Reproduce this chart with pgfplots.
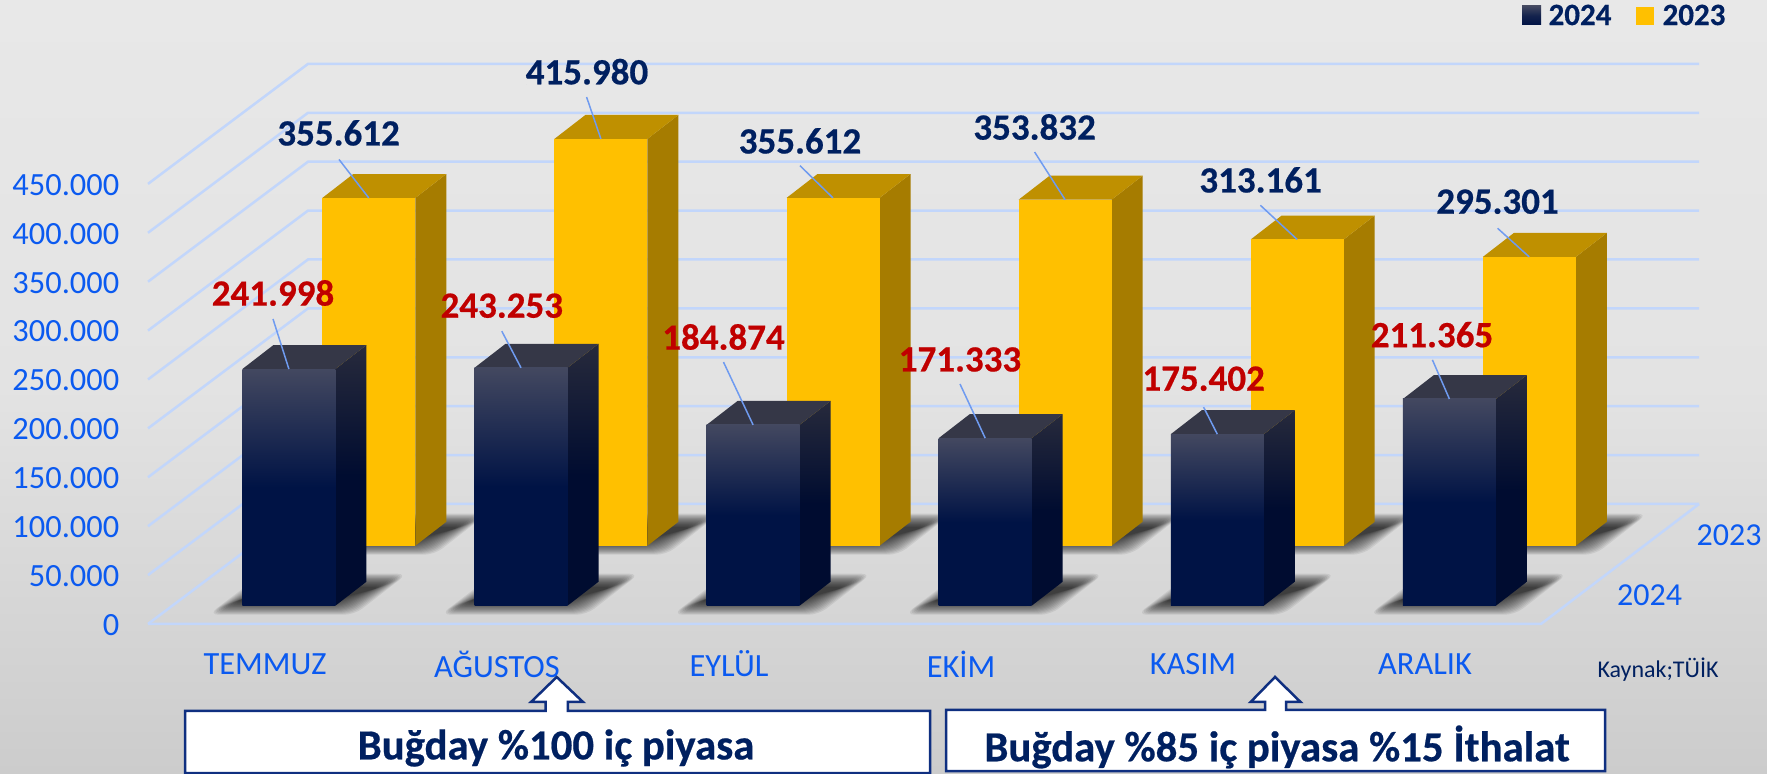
\documentclass[border=0pt]{standalone}
\usepackage{fontspec}
\setmainfont[BoldFeatures={FakeBold=0.5}]{Carlito}
\usepackage{pgfplots}
\pgfplotsset{compat=1.18}
\definecolor{gridc}{HTML}{C2D6FB}
\definecolor{tickc}{HTML}{0B5AF0}
\definecolor{navy}{HTML}{002060}
\definecolor{redc}{HTML}{C00000}
\definecolor{leader}{HTML}{6F9BF0}
\definecolor{boxc}{HTML}{0F2F80}
\newcommand\Y[1]{{(624-(#1))/0.978}}
% grid line: front-left, back-left, back-right
\newcommand\gridl[1]{%
  \pgfmathsetmacro\gb{#1+122.7}%
  \addplot[gridc,line width=1.25pt,forget plot] coordinates {(148,#1)(308,\gb)(1699,\gb)};}
% shadow layers
\newcommand\shl[3]{%
  \fill[black,opacity=0.07,rounded corners=5pt] (axis cs:{#1-34+#3*1.7},\Y{#2+9-#3*0.9})
   -- (axis cs:{#1+112-#3*1.7},\Y{#2+9-#3*0.9})
   -- (axis cs:{#1+165-#3*1.7},\Y{#2-32+#3*0.9})
   -- (axis cs:{#1+20+#3*1.7},\Y{#2-32+#3*0.9}) -- cycle;}
\newcommand\shadowb[2]{\shl{#1}{#2}{0}\shl{#1}{#2}{1}\shl{#1}{#2}{2}\shl{#1}{#2}{3}\shl{#1}{#2}{4}\shl{#1}{#2}{5}\shl{#1}{#2}{6}\shl{#1}{#2}{7}\shl{#1}{#2}{8}\shl{#1}{#2}{9}\shl{#1}{#2}{10}\shl{#1}{#2}{11}\shl{#1}{#2}{12}\shl{#1}{#2}{13}\shl{#1}{#2}{14}\shl{#1}{#2}{15}}
% bar faces: x-left, value
\newcommand\barg[2]{%
  \pgfmathsetmacro\xr{#1+93}\pgfmathsetmacro\xrb{#1+124}\pgfmathsetmacro\xlb{#1+31}%
  \pgfmathsetmacro\yb{80.0}\pgfmathsetmacro\yt{80.0+#2}\pgfmathsetmacro\ybb{80.0+24.5}\pgfmathsetmacro\ytb{80.0+#2+24.5}%
  \addplot[fill=goldside,draw=none,forget plot] coordinates {(\xr,\yb)(\xrb,\ybb)(\xrb,\ytb)(\xr,\yt)} -- cycle;
  \addplot[fill=goldtop,draw=none,forget plot] coordinates {(#1,\yt)(\xr,\yt)(\xrb,\ytb)(\xlb,\ytb)} -- cycle;
  \addplot[fill=goldfront,draw=none,forget plot] coordinates {(#1,\yb)(\xr,\yb)(\xr,\yt)(#1,\yt)} -- cycle;}
\newcommand\barn[2]{%
  \pgfmathsetmacro\xr{#1+93}\pgfmathsetmacro\xrb{#1+124}\pgfmathsetmacro\xlb{#1+31}%
  \pgfmathsetmacro\yb{18.7}\pgfmathsetmacro\yt{18.7+#2}\pgfmathsetmacro\ybb{18.7+24.5}\pgfmathsetmacro\ytb{18.7+#2+24.5}%
  \addplot[top color=navyst,bottom color=navysm,middle color=navysm,draw=none,forget plot] coordinates {(\xr,\yb)(\xrb,\ybb)(\xrb,\ytb)(\xr,\yt)} -- cycle;
  \addplot[fill=navytop,draw=none,forget plot] coordinates {(#1,\yt)(\xr,\yt)(\xrb,\ytb)(\xlb,\ytb)} -- cycle;
  \addplot[top color=navyft,bottom color=navyfm,middle color=navyfm,draw=none,forget plot] coordinates {(#1,\yb)(\xr,\yb)(\xr,\yt)(#1,\yt)} -- cycle;}
\definecolor{goldfront}{HTML}{FFC000}
\definecolor{goldtop}{HTML}{BF9000}
\definecolor{goldside}{HTML}{A67C00}
\definecolor{navyft}{HTML}{434860}
\definecolor{navyfm}{HTML}{001345}
\definecolor{navyst}{HTML}{272A3C}
\definecolor{navysm}{HTML}{000C30}
\definecolor{navytop}{HTML}{353747}
% leader and label: xlabel, ylabel px, xstart, ystart value, xend, yend value, colour, text
\newcommand\vlab[8]{%
  \addplot[leader,line width=0.75pt,forget plot] coordinates {(#3,{#4})(#5,{#6})};
  \node[font=\fontsize{18.5}{20}\selectfont\bfseries,text=#7,inner sep=0pt] at (axis cs:#1,\Y{#2}) {#8};}
\begin{document}
\begin{tikzpicture}[x=1pt,y=1pt]
\path[use as bounding box] (0,0) rectangle (883.5,387);
\shade[top color=white!91!black,bottom color=white!80!black,middle color=white!89!black,draw=none] (0,0) rectangle (883.5,387);
\begin{axis}[
  at={(61pt,0pt)},anchor=south west,scale only axis,
  width=822.5pt,height=387pt,
  xmin=122,xmax=1767,ymin=-153.37,ymax=638.04,
  clip=false,axis line style={draw=none},tick style={draw=none},
  ytick={0,50,100,150,200,250,300,350,400,450},
  yticklabels={0,50.000,100.000,150.000,200.000,250.000,300.000,350.000,400.000,450.000},
  yticklabel style={font=\fontsize{16.2}{18}\selectfont,text=tickc,anchor=east,xshift=-1.2pt,yshift=-0.5pt,inner sep=0pt},
  xtick={265,497,729,961,1193,1425},
  xticklabels={TEMMUZ,AĞUSTOS,EYLÜL,EKİM,KASIM,ARALIK},
  xticklabel style={font=\fontsize{16.2}{18}\selectfont,text=tickc,anchor=center,yshift=55pt},
]
% floor and grid
\addplot[gridc,line width=1.25pt,forget plot] coordinates {(148,0)(1541,0)(1699,122.7)};
\gridl{0}\gridl{50}\gridl{100}\gridl{150}\gridl{200}\gridl{250}\gridl{300}\gridl{350}\gridl{400}\gridl{450}
% 2023 row
\shadowb{322.3}{545.7}\shadowb{554.4}{545.7}\shadowb{786.5}{545.7}\shadowb{1018.6}{545.7}\shadowb{1250.7}{545.7}\shadowb{1482.8}{545.7}
\barg{322.3}{355.612}
\barg{554.4}{415.980}
\barg{786.5}{355.612}
\barg{1018.6}{353.832}
\barg{1250.7}{313.161}
\barg{1482.8}{295.301}
% 2024 row
\shadowb{242.4}{605.7}\shadowb{474.5}{605.7}\shadowb{706.6}{605.7}\shadowb{938.7}{605.7}\shadowb{1170.8}{605.7}\shadowb{1402.9}{605.7}
\barn{242.4}{241.998}
\barn{474.5}{243.253}
\barn{706.6}{184.874}
\barn{938.7}{171.333}
\barn{1170.8}{175.402}
\barn{1402.9}{211.365}
% labels
\vlab{338.6}{133}{339}{475.0}{368.8}{435.612}{navy}{355.612}
\vlab{587}{71.7}{586.6}{538.8}{600.9}{495.980}{navy}{415.980}
\vlab{800}{141}{800}{468.6}{833}{435.612}{navy}{355.612}
\vlab{1034.6}{127}{1034.6}{482.6}{1065.1}{433.832}{navy}{353.832}
\vlab{1260.6}{180}{1260.4}{428.1}{1297.2}{393.161}{navy}{313.161}
\vlab{1497.5}{201.7}{1497.6}{404.6}{1529.3}{375.301}{navy}{295.301}
\vlab{273}{293}{273}{311.9}{288.9}{260.698}{redc}{241.998}
\vlab{501.8}{305.7}{501.8}{299.4}{521}{261.953}{redc}{243.253}
\vlab{723.5}{337}{723.5}{267.8}{753.1}{203.574}{redc}{184.874}
\vlab{960}{359.5}{960}{245.4}{985.2}{190.033}{redc}{171.333}
\vlab{1203.6}{378.7}{1203.6}{221.7}{1217.3}{194.102}{redc}{175.402}
\vlab{1432}{334.7}{1432.4}{270.1}{1449.4}{230.065}{redc}{211.365}
% depth labels
\node[font=\fontsize{16}{18}\selectfont,text=tickc,inner sep=0pt] at (axis cs:1729,\Y{535}) {2023};
\node[font=\fontsize{16}{18}\selectfont,text=tickc,inner sep=0pt] at (axis cs:1649.5,\Y{595}) {2024};
% legend
\shade[top color=navyft,bottom color=navyfm,middle color=navyfm!70!navyft] (axis cs:1522,\Y{6}) rectangle (axis cs:1541,\Y{25});
\node[font=\fontsize{15.5}{18}\selectfont\bfseries,text=navy,inner sep=0pt] at (axis cs:1580,\Y{15}) {2024};
\fill[goldfront] (axis cs:1636,\Y{7}) rectangle (axis cs:1654,\Y{25});
\node[font=\fontsize{15.5}{18}\selectfont\bfseries,text=navy,inner sep=0pt] at (axis cs:1694,\Y{15}) {2023};
% source
\node[font=\fontsize{12}{14}\selectfont,text=navy,inner sep=0pt] at (axis cs:1658,\Y{670}) {Kaynak;TÜİK};
% boxes with arrows
\draw[boxc,line width=1.25pt,fill=white] (axis cs:185,\Y{773}) -- (axis cs:185,\Y{711}) -- (axis cs:545.6,\Y{711}) -- (axis cs:545.6,\Y{702}) -- (axis cs:531,\Y{702}) -- (axis cs:556.7,\Y{677}) -- (axis cs:583,\Y{702}) -- (axis cs:567.9,\Y{702}) -- (axis cs:567.9,\Y{711}) -- (axis cs:930,\Y{711}) -- (axis cs:930,\Y{773}) -- cycle;
\draw[boxc,line width=1.25pt,fill=white] (axis cs:946,\Y{771}) -- (axis cs:946,\Y{710}) -- (axis cs:1265,\Y{710}) -- (axis cs:1265,\Y{702}) -- (axis cs:1250.6,\Y{702}) -- (axis cs:1275,\Y{677}) -- (axis cs:1300.5,\Y{702}) -- (axis cs:1286,\Y{702}) -- (axis cs:1286,\Y{710}) -- (axis cs:1605,\Y{710}) -- (axis cs:1605,\Y{771}) -- cycle;
\node[font=\fontsize{21.4}{24}\selectfont\bfseries,text=navy,inner sep=0pt] at (axis cs:556,\Y{748}) {Buğday \%100 iç piyasa};
\node[font=\fontsize{21.4}{24}\selectfont\bfseries,text=navy,inner sep=0pt] at (axis cs:1277,\Y{747}) {Buğday \%85 iç piyasa \%15 İthalat};
\end{axis}
\end{tikzpicture}
\end{document}
